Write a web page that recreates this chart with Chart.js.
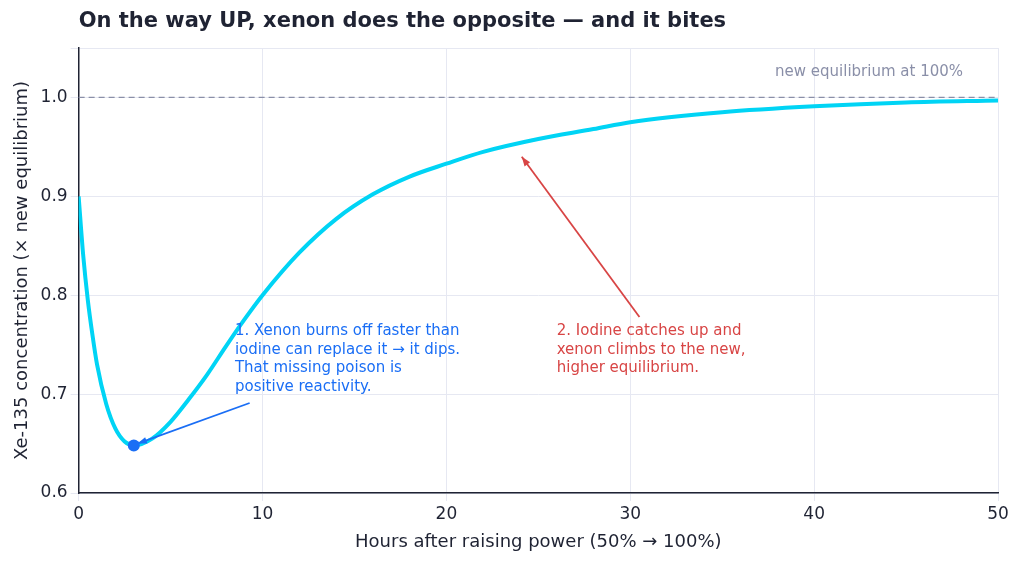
<!DOCTYPE html><html><head><script src="https://cdn.jsdelivr.net/npm/chart.js@4"></script>
<style>body{margin:0;background:#fff}#w{width:1024px;height:565px}</style></head><body><div id="w"><canvas id="c"></canvas></div>
<script>
const hours=[0,0.25,0.5,0.75,1,1.5,2,2.5,3,4,5,6,7,8,9,10,12,14,16,18,20,22,25,28,30,35,40,45,50];
const xenon=[0.9,0.84,0.795,0.76,0.73,0.69,0.665,0.652,0.648,0.655,0.672,0.695,0.72,0.748,0.775,0.80,0.843,0.877,0.902,0.92,0.933,0.945,0.958,0.968,0.975,0.985,0.991,0.995,0.997];
const minPoint={x:3,y:0.648};
const titleText='On the way UP, xenon does the opposite — and it bites';
const note1=["1. Xenon burns off faster than","iodine can replace it → it dips.","That missing poison is","positive reactivity."];
const note2=["2. Iodine catches up and","xenon climbs to the new,","higher equilibrium."];
function arrow(ctx,x1,y1,x2,y2,col){ctx.save();ctx.strokeStyle=col;ctx.fillStyle=col;ctx.lineWidth=1.8;ctx.beginPath();ctx.moveTo(x1,y1);ctx.lineTo(x2,y2);ctx.stroke();const a=Math.atan2(y2-y1,x2-x1),L=10;ctx.beginPath();ctx.moveTo(x2,y2);ctx.lineTo(x2-L*Math.cos(a-0.35),y2-L*Math.sin(a-0.35));ctx.lineTo(x2-L*Math.cos(a+0.35),y2-L*Math.sin(a+0.35));ctx.closePath();ctx.fill();ctx.restore();}
const ann={id:'ann',afterDatasetsDraw(ch){const {ctx,scales:{x,y},chartArea:ca}=ch;ctx.save();
ctx.font='bold 21px "DejaVu Sans"';ctx.fillStyle='#1f2333';ctx.textAlign='left';ctx.textBaseline='middle';ctx.fillText(titleText,ca.left,22);
ctx.strokeStyle='#8a8fa8';ctx.setLineDash([6,4]);ctx.lineWidth=1.3;ctx.beginPath();ctx.moveTo(ca.left,y.getPixelForValue(1));ctx.lineTo(ca.right,y.getPixelForValue(1));ctx.stroke();ctx.setLineDash([]);
ctx.font='15px "DejaVu Sans"';ctx.fillStyle='#8a8fa8';ctx.textAlign='right';ctx.fillText('new equilibrium at 100%',x.getPixelForValue(48.1),y.getPixelForValue(1.026));
ctx.textAlign='left';ctx.fillStyle='#1a6ef5';note1.forEach((t,i)=>ctx.fillText(t,x.getPixelForValue(8.5),331+i*18.7));
ctx.fillStyle='#d84545';note2.forEach((t,i)=>ctx.fillText(t,x.getPixelForValue(26),331+i*18.7));
arrow(ctx,x.getPixelForValue(9.3),y.getPixelForValue(0.691),x.getPixelForValue(3.2),y.getPixelForValue(0.65),'#1a6ef5');
arrow(ctx,x.getPixelForValue(30.5),y.getPixelForValue(0.778),x.getPixelForValue(24.1),y.getPixelForValue(0.94),'#d84545');
ctx.fillStyle='#1a6ef5';ctx.beginPath();ctx.arc(x.getPixelForValue(minPoint.x),y.getPixelForValue(minPoint.y),6,0,7);ctx.fill();
ctx.restore();}};
new Chart(document.getElementById('c'),{type:'line',data:{datasets:[{data:hours.map((h,i)=>({x:h,y:xenon[i]})),borderColor:'#00d4f5',borderWidth:4,pointRadius:0,tension:0.4,cubicInterpolationMode:'monotone'}]},
options:{responsive:true,maintainAspectRatio:false,animation:false,layout:{padding:{right:26,left:8,top:48,bottom:8}},
plugins:{legend:{display:false},tooltip:{enabled:false},title:{display:false}},
scales:{x:{type:'linear',min:0,max:50,ticks:{stepSize:10,color:'#1f2333',font:{family:'DejaVu Sans',size:17}},grid:{color:'#e6e8f2'},border:{color:'#1f2333',width:1.5},title:{display:true,text:'Hours after raising power (50% → 100%)',color:'#1f2333',font:{family:'DejaVu Sans',size:18}}},
y:{min:0.6,max:1.05,ticks:{stepSize:0.1,color:'#1f2333',font:{family:'DejaVu Sans',size:17},callback:v=>Math.abs(v*10-Math.round(v*10))<1e-6?v.toFixed(1):''},grid:{color:'#e6e8f2'},border:{color:'#1f2333',width:1.5},title:{display:true,text:'Xe-135 concentration (× new equilibrium)',color:'#1f2333',font:{family:'DejaVu Sans',size:18}}}}},plugins:[ann]});
</script></body></html>
